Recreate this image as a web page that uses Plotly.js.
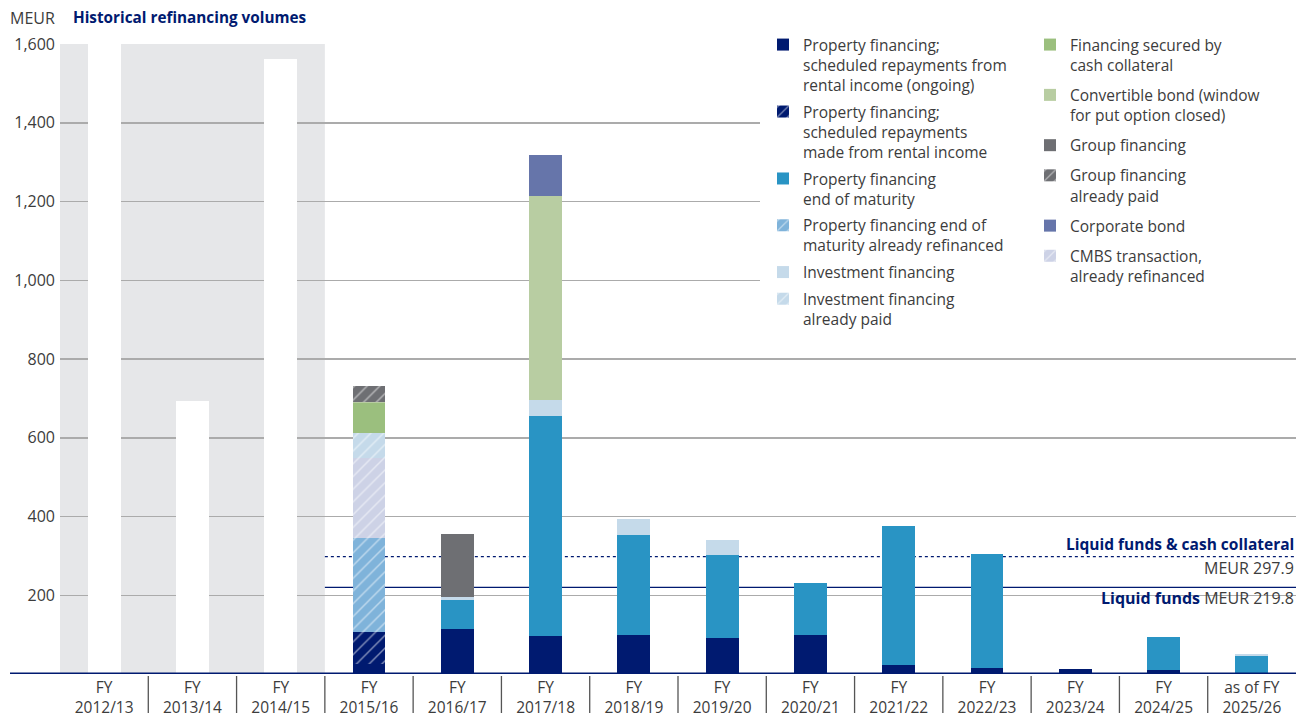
<!DOCTYPE html>
<html>
<head>
<meta charset="utf-8">
<script src="https://cdn.plot.ly/plotly-3.0.1.min.js"></script>
<style>html,body{margin:0;padding:0;background:#fff;}#chart{width:1309px;height:717px;}</style>
</head>
<body>
<div id="chart"></div>
<script>
// ---- Data (MEUR) ----
const categories = ["FY<br>2012/13","FY<br>2013/14","FY<br>2014/15","FY<br>2015/16","FY<br>2016/17","FY<br>2017/18","FY<br>2018/19","FY<br>2019/20","FY<br>2020/21","FY<br>2021/22","FY<br>2022/23","FY<br>2023/24","FY<br>2024/25","as of FY<br>2025/26"];
const historical      = [1600, 693, 1562, 0, 0, 0, 0, 0, 0, 0, 0, 0, 0, 0];
const pfOngoing       = [0, 0, 0, 25, 115, 97, 99, 91, 99, 23, 15, 12, 10, 0];
const pfPaid          = [0, 0, 0, 82, 0, 0, 0, 0, 0, 0, 0, 0, 0, 0];
const pfEnd           = [0, 0, 0, 0, 73, 559, 254, 211, 132, 353, 290, 0, 84, 46];
const pfEndRefinanced = [0, 0, 0, 239, 0, 0, 0, 0, 0, 0, 0, 0, 0, 0];
const cmbs            = [0, 0, 0, 202, 0, 0, 0, 0, 0, 0, 0, 0, 0, 0];
const investment      = [0, 0, 0, 0, 8, 41, 41, 38, 0, 0, 0, 0, 0, 5];
const investmentPaid  = [0, 0, 0, 65, 0, 0, 0, 0, 0, 0, 0, 0, 0, 0];
const cashCollateral  = [0, 0, 0, 76, 0, 0, 0, 0, 0, 0, 0, 0, 0, 0];
const convertible     = [0, 0, 0, 3, 0, 518, 0, 0, 0, 0, 0, 0, 0, 0];
const groupFin        = [0, 0, 0, 0, 159, 0, 0, 0, 0, 0, 0, 0, 0, 0];
const groupPaid       = [0, 0, 0, 39, 0, 0, 0, 0, 0, 0, 0, 0, 0, 0];
const corporateBond   = [0, 0, 0, 0, 0, 102, 0, 0, 0, 0, 0, 0, 0, 0];
const liquidFundsCash = 297.9;
const liquidFunds     = 219.8;
const yTicks = [200, 400, 600, 800, 1000, 1200, 1400, 1600];

// ---- Styling ----
const NAVY = "#001A70";
const FONT = "Open Sans, Lato, sans-serif";
const TXT = "#3c3c3c";

function bar(name, y, color, rank, legend, hatch) {
  const t = {
    type: "bar", name: name, x: categories, y: y,
    marker: { color: color, line: { width: 0 } },
    legend: legend, legendrank: rank, legendgroup: name,
    hoverinfo: "skip"
  };
  if (hatch) {
    t.marker.pattern = { shape: "/", fgcolor: "#ffffff", bgcolor: color, fillmode: "overlay", size: 9, solidity: 0.16 };
  }
  return t;
}

const traces = [
  bar("Property financing;<br>scheduled repayments from<br>rental income (ongoing)", pfOngoing, NAVY, 1, "legend", false),
  bar("Property financing;<br>scheduled repayments<br>made from rental income", pfPaid, NAVY, 2, "legend", true),
  bar("Property financing<br>end of maturity", pfEnd, "#2994C4", 3, "legend", false),
  bar("Property financing end of<br>maturity already refinanced", pfEndRefinanced, "#7FB3DA", 4, "legend", true),
  bar("CMBS transaction,<br>already refinanced", cmbs, "#CDD2E6", 12, "legend2", true),
  bar("Investment financing", investment, "#C5DAEA", 5, "legend", false),
  bar("Investment financing<br>already paid", investmentPaid, "#C5DAEA", 6, "legend", true),
  bar("Financing secured by<br>cash collateral", cashCollateral, "#9BBF7E", 7, "legend2", false),
  bar("Convertible bond (window<br>for put option closed)", convertible, "#B8CDA2", 8, "legend2", false),
  bar("Group financing", groupFin, "#6E6F73", 9, "legend2", false),
  bar("Group financing<br>already paid", groupPaid, "#6E6F73", 10, "legend2", true),
  bar("Corporate bond", corporateBond, "#6675AA", 11, "legend2", false),
  { type: "bar", name: "Historical refinancing volumes", x: categories, y: historical,
    marker: { color: "#ffffff", line: { width: 0 } }, showlegend: false, hoverinfo: "skip" }
];

const W = 1309, H = 717, ML = 60, MR = 13, MT = 44, MB = 43;
const PW = W - ML - MR, PH = H - MT - MB;
const px2x = p => (p - ML) / PW;
const px2y = p => (H - MB - p) / PH;

const shapes = [
  // historical period shading
  { type: "rect", xref: "x", yref: "y", x0: -0.5, x1: 2.5, y0: 0, y1: 1600, fillcolor: "#E6E7E9", line: { width: 0 }, layer: "below" },
  // liquidity reference lines
  { type: "line", xref: "x", yref: "y", x0: 2.5, x1: 13.5, y0: liquidFundsCash, y1: liquidFundsCash, line: { color: NAVY, width: 1.3, dash: "3px,3px" }, layer: "below" },
  { type: "line", xref: "x", yref: "y", x0: 2.5, x1: 13.5, y0: liquidFunds, y1: liquidFunds, line: { color: NAVY, width: 1.3 }, layer: "below" },
  // legend background covering gridlines
  { type: "rect", xref: "paper", yref: "paper", x0: px2x(760), x1: 1.0, y0: px2y(336), y1: 1.02, fillcolor: "#ffffff", line: { width: 0 }, layer: "above" },
  // baseline
  { type: "line", xref: "paper", yref: "y", x0: px2x(10), x1: 1, y0: 0, y1: 0, line: { color: NAVY, width: 3 }, layer: "above" }
];
for (let i = 0; i < categories.length - 1; i++) {
  shapes.push({ type: "line", xref: "x", yref: "paper", x0: i + 0.5, x1: i + 0.5, y0: px2y(676), y1: px2y(713), line: { color: "#555555", width: 1.3 } });
}

const annotations = [
  { text: "MEUR", xref: "paper", yref: "paper", x: px2x(8), y: px2y(18), xanchor: "left", yanchor: "middle", showarrow: false, font: { family: FONT, size: 16, color: TXT } },
  { text: "<b>Liquid funds &amp; cash collateral</b>", xref: "paper", yref: "y", x: 1, y: liquidFundsCash, xanchor: "right", yanchor: "bottom", yshift: 0, showarrow: false, font: { family: FONT, size: 15.5, color: NAVY } },
  { text: "MEUR " + liquidFundsCash.toFixed(1), xref: "paper", yref: "y", x: 1, y: liquidFundsCash, xanchor: "right", yanchor: "top", yshift: 2, showarrow: false, font: { family: FONT, size: 16, color: TXT } },
  { text: "<b><span style='color:" + NAVY + "'>Liquid funds</span></b> MEUR " + liquidFunds.toFixed(1), xref: "paper", yref: "y", x: 1, y: liquidFunds, xanchor: "right", yanchor: "top", yshift: 2, showarrow: false, font: { family: FONT, size: 16, color: TXT } }
];

const legendCommon = {
  font: { family: FONT, size: 15.5, color: TXT },
  bgcolor: "rgba(255,255,255,0)",
  traceorder: "grouped",
  itemclick: false, itemdoubleclick: false,
  xanchor: "left", yanchor: "top",
  valign: "top",
  itemwidth: 30
};

const layout = {
  width: W, height: H, autosize: false,
  margin: { l: ML, r: MR, t: MT, b: MB, pad: 0 },
  paper_bgcolor: "#ffffff", plot_bgcolor: "rgba(0,0,0,0)",
  font: { family: FONT, size: 15, color: TXT },
  title: { text: "<b>Historical refinancing volumes</b>", xref: "container", yref: "container", x: 73 / W, xanchor: "left", y: 1 - 18 / H, yanchor: "middle", font: { family: FONT, size: 15.3, color: NAVY } },
  barmode: "stack",
  bargap: 0.627,
  showlegend: true,
  legend: Object.assign({}, legendCommon, { x: px2x(763), y: px2y(28), tracegroupgap: 3.5 }),
  legend2: Object.assign({}, legendCommon, { x: px2x(1030), y: px2y(28), tracegroupgap: 7 }),
  xaxis: {
    type: "category", range: [-0.5, 13.5], fixedrange: true,
    showgrid: false, zeroline: false, showline: false, ticks: "",
    ticklabelstandoff: 2,
    tickfont: { family: FONT, size: 15.5, color: TXT }
  },
  yaxis: {
    range: [0, 1600], fixedrange: true,
    tickvals: yTicks, tickformat: ",d",
    showgrid: true, gridcolor: "#ABABAB", gridwidth: 1.5,
    zeroline: false, showline: false, ticks: "",
    ticklabelstandoff: 4,
    tickfont: { family: FONT, size: 16, color: TXT }
  },
  shapes: shapes,
  annotations: annotations
};

Plotly.newPlot("chart", traces, layout, { displayModeBar: false, staticPlot: true });
</script>
</body>
</html>
